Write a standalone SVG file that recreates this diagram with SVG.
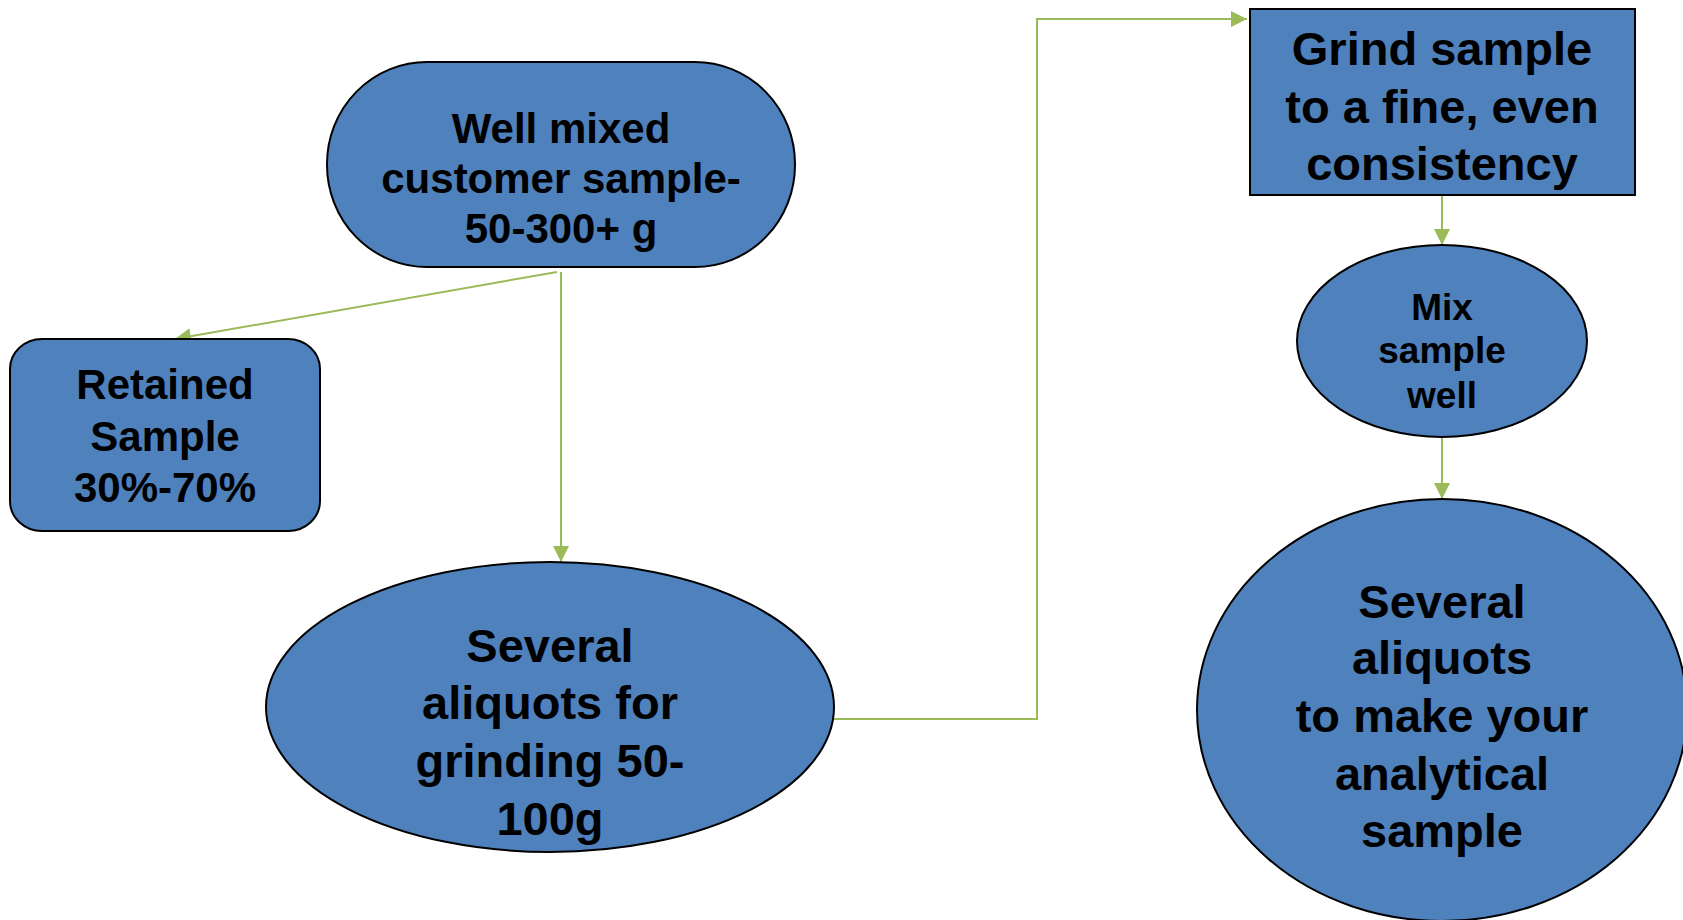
<svg xmlns="http://www.w3.org/2000/svg" width="1683" height="920" viewBox="0 0 1683 920">
<style>
.n{fill:#4F81BD;stroke:#000;stroke-width:2}
.t{font-family:"Liberation Sans",Arial,sans-serif;font-weight:bold;fill:#000;text-anchor:middle}
.c{fill:none;stroke:#9BBB59;stroke-width:2}
</style>
<defs>
<marker id="ah" markerUnits="userSpaceOnUse" markerWidth="16" markerHeight="16" viewBox="0 0 16 16" refX="16" refY="8" orient="auto">
<path d="M0,0 L16,8 L0,16 Z" fill="#9BBB59"/>
</marker>
</defs>
<rect width="1683" height="920" fill="#fff"/>
<g id="connectors">
<path class="c" d="M557,272 L175,339" marker-end="url(#ah)"/>
<path class="c" d="M561,272 V562" marker-end="url(#ah)"/>
<path class="c" d="M834,719 H1037 V19 H1247" marker-end="url(#ah)"/>
<path class="c" d="M1442,195 V245" marker-end="url(#ah)"/>
<path class="c" d="M1442,437 V499" marker-end="url(#ah)"/>
</g>
<g id="node-mixed">
<rect class="n" x="327" y="62" width="468" height="205" rx="100" ry="102"/>
<text class="t" font-size="42" x="561" y="143">Well mixed</text>
<text class="t" font-size="42" x="561" y="193">customer sample-</text>
<text class="t" font-size="42" x="561" y="243">50-300+ g</text>
</g>
<g id="node-retained">
<rect class="n" x="10" y="339" width="310" height="192" rx="32" ry="30"/>
<text class="t" font-size="42" x="165" y="399">Retained</text>
<text class="t" font-size="42" x="165" y="451">Sample</text>
<text class="t" font-size="42" x="165" y="502">30%-70%</text>
</g>
<g id="node-grinding">
<ellipse class="n" cx="550" cy="707" rx="284" ry="145"/>
<text class="t" font-size="47" x="550" y="662">Several</text>
<text class="t" font-size="47" x="550" y="719">aliquots for</text>
<text class="t" font-size="47" x="550" y="777">grinding 50-</text>
<text class="t" font-size="47" x="550" y="835">100g</text>
</g>
<g id="node-grind">
<rect class="n" x="1250" y="9" width="385" height="186"/>
<text class="t" font-size="47" x="1442" y="65">Grind sample</text>
<text class="t" font-size="47" x="1442" y="123">to a fine, even</text>
<text class="t" font-size="47" x="1442" y="180">consistency</text>
</g>
<g id="node-mix">
<ellipse class="n" cx="1442" cy="341" rx="145" ry="96"/>
<text class="t" font-size="37" x="1442" y="320">Mix</text>
<text class="t" font-size="37" x="1442" y="363">sample</text>
<text class="t" font-size="37" x="1442" y="408">well</text>
</g>
<g id="node-analytical">
<ellipse class="n" cx="1442" cy="710" rx="245" ry="211"/>
<text class="t" font-size="47" x="1442" y="618">Several</text>
<text class="t" font-size="47" x="1442" y="674">aliquots</text>
<text class="t" font-size="47" x="1442" y="732">to make your</text>
<text class="t" font-size="47" x="1442" y="790">analytical</text>
<text class="t" font-size="47" x="1442" y="847">sample</text>
</g>
</svg>
